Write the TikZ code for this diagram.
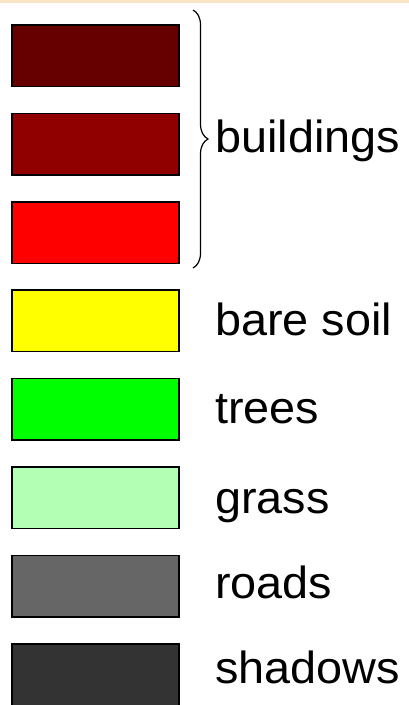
\documentclass[tikz,border=0pt]{standalone}
\usepackage{fontspec}
\setmainfont{Liberation Sans}
\usepackage{graphicx}
\usetikzlibrary{decorations.pathreplacing}
\definecolor{band}{RGB}{251,229,199}
\definecolor{cA}{RGB}{102,0,0}
\definecolor{cB}{RGB}{144,0,0}
\definecolor{cC}{RGB}{255,0,0}
\definecolor{cD}{RGB}{255,255,0}
\definecolor{cE}{RGB}{0,255,0}
\definecolor{cF}{RGB}{179,255,179}
\definecolor{cG}{RGB}{102,102,102}
\definecolor{cH}{RGB}{51,51,51}
\tikzset{
  swatch/.style={draw=black, line width=1.5pt, anchor=north west, minimum width=167pt, minimum height=61.5pt, inner sep=0pt, outer sep=0pt},
  lbl/.style={anchor=base west, inner sep=0pt, font=\fontsize{45}{54}\selectfont},
  bracestyle/.style={decorate, decoration={brace, amplitude=15pt, aspect=0.5}, line width=1.2pt}
}
\newcommand{\widetxt}[1]{\scalebox{1.04}[1]{#1}}
\begin{document}
\begin{tikzpicture}[x=1pt,y=-1pt]
\useasboundingbox (0,0) rectangle (409,705);
\fill[band] (0,0) rectangle (409,3);
\node[swatch, fill=cA] (b1) at (12,25) {};
\node[swatch, fill=cB] (b2) at (12,113.4) {};
\node[swatch, fill=cC] (b3) at (12,201.8) {};
\node[swatch, fill=cD] (b4) at (12,290.2) {};
\node[swatch, fill=cE] (b5) at (12,378.6) {};
\node[swatch, fill=cF] (b6) at (12,467) {};
\node[swatch, fill=cG] (b7) at (12,555.4) {};
\node[swatch, fill=cH] (b8) at (12,643.8) {};
\coordinate (brtop) at (193,10);
\coordinate (brbot) at (193,268);
\draw[bracestyle] (brtop) -- (brbot);
\node[lbl] (t1) at (215,152) {\widetxt{buildings}};
\node[lbl] (t4) at (215,335) {\widetxt{bare soil}};
\node[lbl] (t5) at (215,423) {\widetxt{trees}};
\node[lbl] (t6) at (215,513) {\widetxt{grass}};
\node[lbl] (t7) at (215,598) {\widetxt{roads}};
\node[lbl] (t8) at (215,683) {\widetxt{shadows}};
\end{tikzpicture}
\end{document}
